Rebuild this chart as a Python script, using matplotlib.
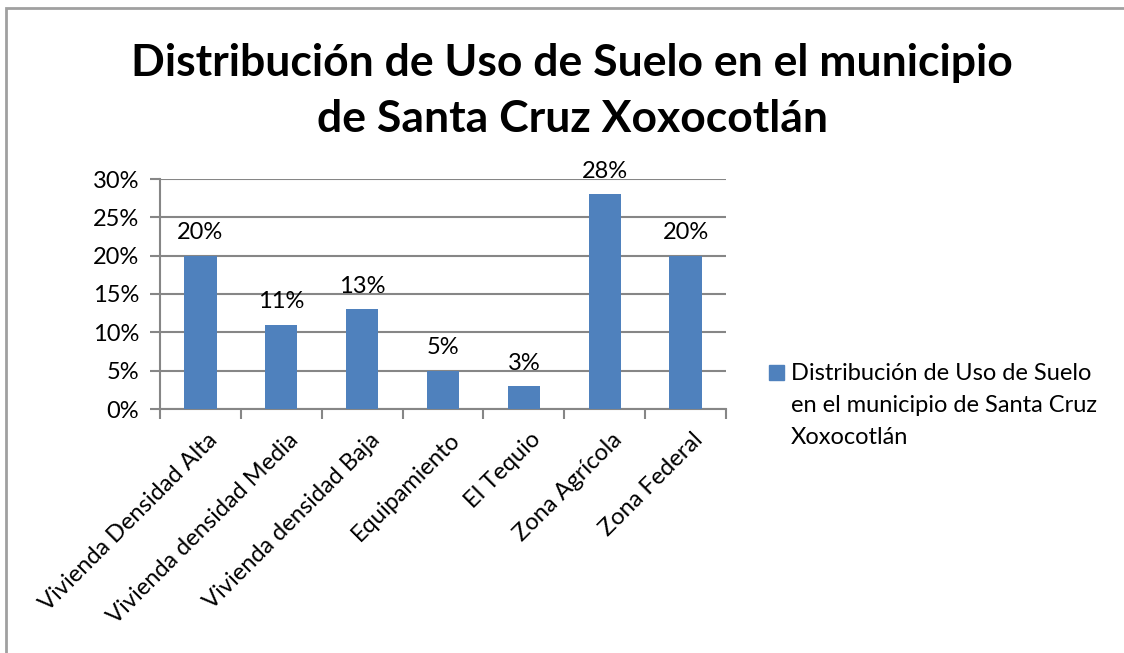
import matplotlib
matplotlib.use('Agg')
import matplotlib.pyplot as plt

categorias = ['Vivienda Densidad Alta', 'Vivienda densidad Media', 'Vivienda densidad Baja',
              'Equipamiento', 'El Tequio', 'Zona Agrícola', 'Zona Federal']
valores = [0.20, 0.11, 0.13, 0.05, 0.03, 0.28, 0.20]
ticks_y = [0, 0.05, 0.10, 0.15, 0.20, 0.25, 0.30]
titulo = 'Distribución de Uso de Suelo en el municipio\nde Santa Cruz Xoxocotlán'
serie = ['Distribución de Uso de Suelo', 'en el municipio de Santa Cruz', 'Xoxocotlán']

plt.rcParams['font.family'] = ['Lato', 'DejaVu Sans']
azul = '#4F81BD'
gris = '#868686'
W, H = 1124, 653

fig = plt.figure(figsize=(11.24, 6.53), dpi=100)
ax = fig.add_axes([160/W, 1 - 409/H, 566/W, 230/H])

x = range(len(categorias))
ax.bar(x, valores, width=0.4, color=azul, zorder=3)
for xi, v in zip(x, valores):
    ax.text(xi, v + 0.016, '%d%%' % round(v * 100), ha='center', va='bottom', fontsize=17)

ax.set_xlim(-0.5, len(categorias) - 0.5)
ax.set_ylim(0, 0.30)
ax.set_yticks(ticks_y)
ax.set_yticklabels(['%d%%' % round(t * 100) for t in ticks_y], fontsize=17)
ax.yaxis.grid(True, color=gris, linewidth=1.5, zorder=0)
ax.tick_params(axis='y', length=7, width=1.5, color=gris, pad=8)

ax.set_xticks([i - 0.5 for i in range(len(categorias) + 1)])
ax.set_xticklabels([''] * (len(categorias) + 1))
ax.tick_params(axis='x', length=7, width=1.5, color=gris)
for i, c in enumerate(categorias):
    ax.text(i + 0.08, -0.026, c, rotation=45, ha='right', va='top',
            rotation_mode='anchor', fontsize=17)

for s in ['top', 'right']:
    ax.spines[s].set_visible(False)
for s in ['left', 'bottom']:
    ax.spines[s].set_color(gris)
    ax.spines[s].set_linewidth(1.5)

fig.text(0.509, 1 - 91/H, titulo, ha='center', va='center', fontsize=32,
         fontweight='bold', linespacing=1.5)

# leyenda
fig.add_artist(plt.Rectangle((769/W, 1 - 380/H), 15/W, 15/H, transform=fig.transFigure,
                             color=azul))
for k, linea in enumerate(serie):
    fig.text(791/W, 1 - (380 + 32 * k)/H, linea, ha='left', va='baseline', fontsize=17)

# borde del grafico
fig.add_artist(plt.Rectangle((6/W, -0.1), 1.2, 1 - 8/H + 0.1, transform=fig.transFigure,
                             fill=False, edgecolor='#A0A0A0', linewidth=2))

fig.savefig('out.png', dpi=100)
